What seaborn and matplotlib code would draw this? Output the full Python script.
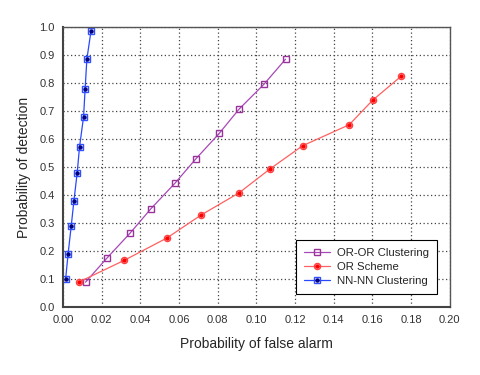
import numpy as np
import pandas as pd
import matplotlib
matplotlib.use('Agg')
import matplotlib.pyplot as plt
import seaborn as sns
from matplotlib.lines import Line2D

# 数据
oror_pfa = [0.0117, 0.0229, 0.0346, 0.0456, 0.0579, 0.0687, 0.0808, 0.0911, 0.1040, 0.1151]
oror_pd = [0.089, 0.176, 0.263, 0.352, 0.442, 0.529, 0.620, 0.707, 0.796, 0.885]

or_pfa = [0.0084, 0.0317, 0.0536, 0.0715, 0.0911, 0.1070, 0.1239, 0.1480, 0.1602, 0.1750]
or_pd = [0.090, 0.167, 0.246, 0.329, 0.408, 0.493, 0.576, 0.651, 0.739, 0.825]

nn_pfa = [0.0014, 0.0027, 0.0043, 0.0057, 0.0074, 0.0086, 0.0107, 0.0115, 0.0124, 0.0145]
nn_pd = [0.099, 0.190, 0.289, 0.379, 0.480, 0.571, 0.680, 0.779, 0.885, 0.984]

labels = ['OR-OR Clustering', 'OR Scheme', 'NN-NN Clustering']
x_ticks = np.arange(0, 0.201, 0.02)
y_ticks = np.arange(0, 1.01, 0.1)

sns.set_style('white')
plt.rcParams['font.family'] = ['Liberation Sans', 'DejaVu Sans']

fig = plt.figure(figsize=(4.8, 3.75), dpi=100)
ax = fig.add_axes([0.131, 0.181, 0.806, 0.747])

series = [
    (oror_pfa, oror_pd, '#a848b8', '#993399', 's', 4.6, None),
    (or_pfa, or_pd, '#ff6060', '#ff4040', 'o', 4.4, '#ff0000'),
    (nn_pfa, nn_pd, '#2848ff', '#3050ff', 's', 4.6, '#000080'),
]

handles = []
for (x, y, lc, mc, mk, ms, dot), lab in zip(series, labels):
    df = pd.DataFrame({'pfa': x, 'pd': y})
    sns.lineplot(data=df, x='pfa', y='pd', ax=ax, color=lc, linewidth=0.9,
                 marker=mk, markersize=ms, markerfacecolor='none',
                 markeredgecolor=mc, markeredgewidth=1.0, sort=False)
    h1 = Line2D([], [], color=lc, linewidth=0.9, marker=mk, markersize=ms,
                markerfacecolor='none', markeredgecolor=mc, markeredgewidth=1.0)
    if dot is not None:
        ax.plot(x, y, linestyle='none', marker='o', markersize=2.2, color=dot)
        h2 = Line2D([], [], linestyle='none', marker='o', markersize=2.2, color=dot)
        handles.append((h1, h2))
    else:
        handles.append(h1)

ax.set_xlim(0, 0.20)
ax.set_ylim(0, 1.0)
ax.set_xticks(x_ticks)
ax.set_yticks(y_ticks)
ax.set_xticklabels([f'{v:.2f}' for v in x_ticks], fontsize=8)
ax.set_yticklabels([f'{v:.1f}' for v in y_ticks], fontsize=8)
ax.tick_params(direction='out', length=3, width=0.8, colors='#333333', pad=3)
ax.grid(True, linestyle=(0, (1, 2)), color='#444444', linewidth=0.9)

for side in ['left', 'bottom']:
    ax.spines[side].set_linewidth(1.5)
    ax.spines[side].set_color('#444444')
for side in ['top', 'right']:
    ax.spines[side].set_linewidth(1.0)
    ax.spines[side].set_color('#555555')

ax.set_xlabel('Probability of false alarm', fontsize=10, labelpad=8)
ax.set_ylabel('Probability of detection', fontsize=10, labelpad=6)

leg = ax.legend(handles, labels, loc='lower right', bbox_to_anchor=(0.966, 0.046),
                fontsize=8.2, fancybox=False, edgecolor='black', framealpha=1,
                handlelength=2.3, handletextpad=0.6, borderpad=0.7,
                labelspacing=0.35, borderaxespad=0)
leg.get_frame().set_linewidth(0.8)

fig.savefig('out.png', dpi=100)
